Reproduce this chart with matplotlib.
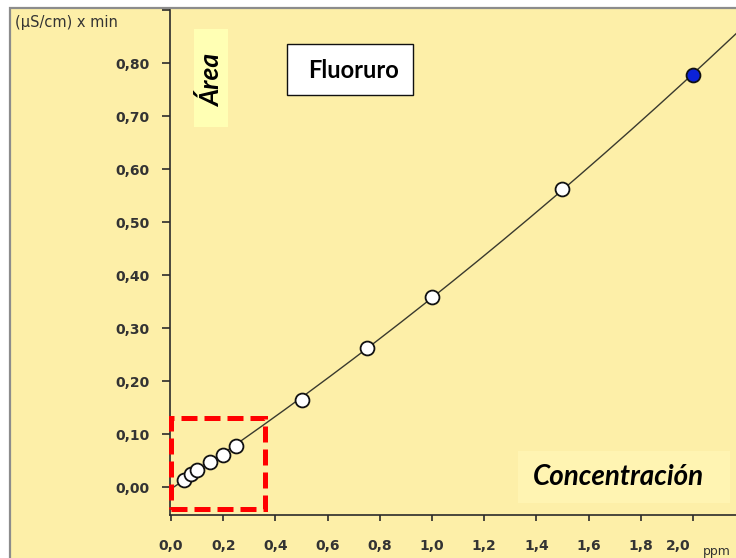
import numpy as np
import matplotlib.pyplot as plt
import matplotlib.transforms as mtransforms
from matplotlib.patches import Rectangle

# calibration standards: fluoride concentration (ppm) vs peak area
conc = [0.05, 0.075, 0.1, 0.15, 0.2, 0.25, 0.5, 0.75, 1.0, 1.5, 2.0]
area = [0.014, 0.025, 0.032, 0.047, 0.060, 0.078, 0.165, 0.263, 0.358, 0.563, 0.778]
highlight = 10  # last standard shown in blue

xticks = [0.0, 0.2, 0.4, 0.6, 0.8, 1.0, 1.2, 1.4, 1.6, 1.8, 2.0]
xticklabels = ["0,0", "0,2", "0,4", "0,6", "0,8", "1,0", "1,2", "1,4", "1,6", "1,8", "2,0"]
yticks = [0.0, 0.1, 0.2, 0.3, 0.4, 0.5, 0.6, 0.7, 0.8, 0.9]
yticklabels = ["0,00", "0,10", "0,20", "0,30", "0,40", "0,50", "0,60", "0,70", "0,80", ""]

bg = "#fdefa8"
W, H = 736, 558

fig = plt.figure(figsize=(W / 100, H / 100), dpi=100, facecolor="white")

# window frame
fig.patches.append(Rectangle((10 / W, -0.05), 1.1, (H - 8) / H + 0.05,
                             transform=fig.transFigure, facecolor=bg,
                             edgecolor="#8c8c8c", linewidth=1.6, zorder=-5))

ax = fig.add_axes([170 / W, 43 / H, 1 - 170 / W, 505 / H])
ax.patch.set_alpha(0)
ax.set_xlim(-0.004, 2.165)
ax.set_ylim(-0.0527, 0.9)

for s in ["top", "right"]:
    ax.spines[s].set_visible(False)
for s in ["left", "bottom"]:
    ax.spines[s].set_color("#2b2b2b")
    ax.spines[s].set_linewidth(1.2)

ax.set_xticks(xticks)
ax.set_xticklabels(xticklabels)
ax.set_yticks(yticks)
ax.set_yticklabels(yticklabels)
ax.tick_params(axis="y", direction="out", length=6, width=1.2, color="#2b2b2b",
               pad=9, labelsize=10, labelcolor="#333333")
ax.tick_params(axis="x", direction="out", length=4.5, width=1.2, color="#2b2b2b",
               pad=13, labelsize=10, labelcolor="#333333")
for lab in ax.get_xticklabels() + ax.get_yticklabels():
    lab.set_fontweight("bold")
# last x label sits a little left of its tick, next to the unit
last = ax.get_xticklabels()[-1]
last.set_transform(last.get_transform() +
                   mtransforms.ScaledTranslation(-0.15, 0, fig.dpi_scale_trans))

# quadratic calibration curve
coef = np.polyfit(conc, area, 2)
xs = np.linspace(0, 2.165, 200)
ax.plot(xs, np.polyval(coef, xs), color="#3a3a2e", lw=1.0, zorder=2)

c = np.array(conc)
a = np.array(area)
mask = np.arange(len(c)) != highlight
ax.plot(c[mask], a[mask], "o", ms=10, mfc="white", mec="#111111", mew=1.3, zorder=3)
ax.plot(c[highlight], a[highlight], "o", ms=10, mfc="#0b22d8", mec="#111111", mew=1.3, zorder=3)

# dashed box around the low standards
ax.add_patch(Rectangle((0.0, -0.041), 0.36, 0.171, fill=False, edgecolor="#ff0000",
                       linewidth=3.6, linestyle=(0, (3.2, 1.4)), clip_on=False, zorder=4))

# labels
fig.text(15 / W, 1 - 22 / H, "(µS/cm) x min", fontsize=10.5, color="#333333",
         ha="left", va="center")
fig.text(703 / W, 1 - 552 / H, "ppm", fontsize=9, color="#333333",
         ha="left", va="center")

fig.patches.append(Rectangle((194 / W, 1 - 127 / H), 34 / W, 98 / H,
                             transform=fig.transFigure, facecolor="#ffffb4",
                             edgecolor="none", zorder=1))
fig.text(212 / W, 1 - 80 / H, "Área", fontsize=19, fontweight="bold", style="italic",
         family="Lato", rotation=90, ha="center", va="center", zorder=5)

fig.patches.append(Rectangle((287 / W, 1 - 95 / H), 126 / W, 51 / H,
                             transform=fig.transFigure, facecolor="white",
                             edgecolor="#111111", linewidth=1.0, zorder=1))
fig.text(353 / W, 1 - 71 / H, "Fluoruro", fontsize=17, fontweight="bold",
         family="Lato", ha="center", va="center", zorder=5)

fig.patches.append(Rectangle((518 / W, 1 - 503 / H), 212 / W, 52 / H,
                             transform=fig.transFigure, facecolor="#fff4b2",
                             edgecolor="none", zorder=1))
fig.text(618 / W, 1 - 477 / H, "Concentración", fontsize=20, fontweight="bold",
         style="italic", family="Lato", ha="center", va="center", zorder=5)

fig.savefig("out.png", dpi=100, facecolor="white")
